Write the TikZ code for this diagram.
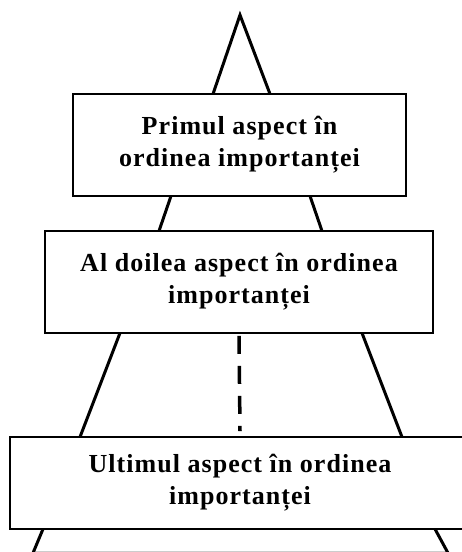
\documentclass[tikz,border=0pt]{standalone}
\usepackage{fontspec}
\setmainfont{Liberation Serif}
\newfontfamily\boxfont[LetterSpace=4]{Liberation Serif}
\begin{document}
\begin{tikzpicture}[x=1bp,y=-1bp,
  box/.style={draw=black, line width=1.6bp, fill=white, inner sep=0pt,
    align=center, font=\boxfont\fontsize{26bp}{32bp}\selectfont\bfseries},
  side/.style={line width=3bp, line cap=butt},
  dashline/.style={line width=3.5bp, dash pattern=on 18bp off 12bp}]
\useasboundingbox (0,0) rectangle (462,552);
\clip (0,0) rectangle (462,552);
% faint base line
\draw[gray!40, line width=1bp] (33,551) -- (448,551);
% triangle sides (segments between boxes)
\coordinate (apex) at (240,15);
\draw[side, line join=miter] (213,94) -- (apex) -- (270,94);
\draw[side] (171,196) -- (159,231);
\draw[side] (310,196) -- (322,231);
\draw[side] (120,333) -- (80,437);
\draw[side] (362,333) -- (402,437);
\draw[side] (43,529) -- (33,553);
\draw[side] (435,529) -- (448,553);
% boxes
\node[box, minimum width=333bp, minimum height=102bp] (b1) at (239.5,145)
  {Primul aspect în\\ordinea importanței};
\node[box, minimum width=388bp, minimum height=102bp] (b2) at (239,282)
  {Al doilea aspect în ordinea\\importanței};
\node[box, minimum width=460bp, minimum height=92bp] (b3) at (240,483)
  {Ultimul aspect în ordinea\\importanței};
% dashed connector
\draw[dashline] ([yshift=-2bp]b2.south) -- ([yshift=5bp]b3.north);
\end{tikzpicture}
\end{document}
